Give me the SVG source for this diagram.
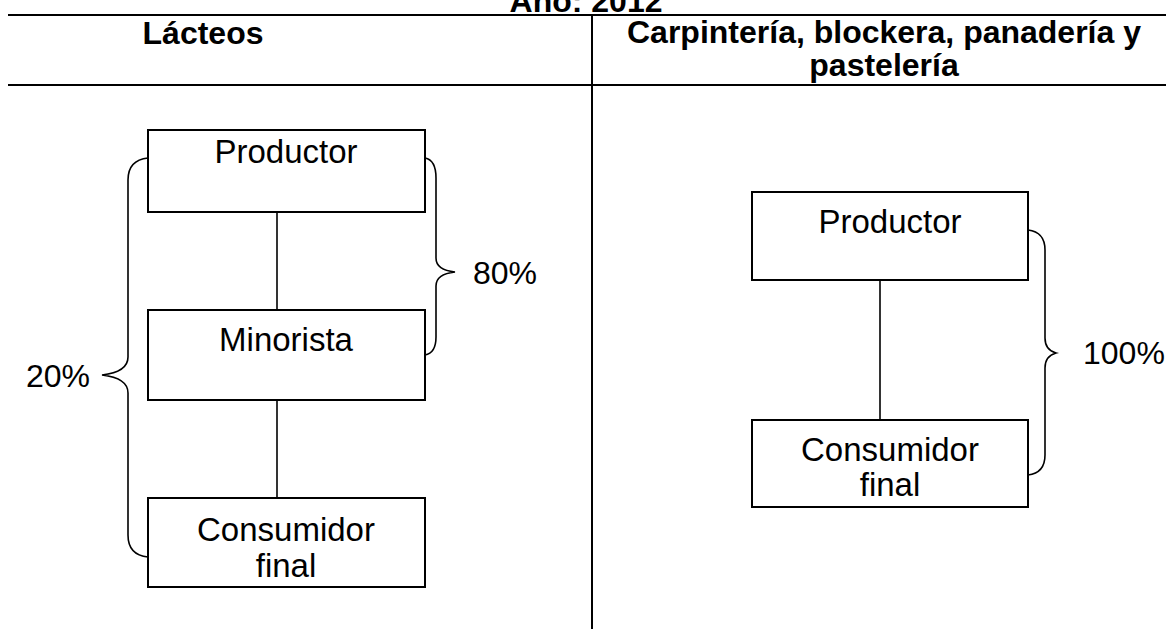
<svg xmlns="http://www.w3.org/2000/svg" width="1172" height="629" viewBox="0 0 1172 629">
<style>
.bg{fill:#ffffff}
.box{fill:#ffffff;stroke:#000;stroke-width:2}
.rule{stroke:#000;stroke-width:2;fill:none}
.ln{stroke:#000;stroke-width:1.6;fill:none}
.t{font-family:"Liberation Sans",Arial,sans-serif;font-size:33px;fill:#000;text-anchor:middle}
.p{font-family:"Liberation Sans",Arial,sans-serif;font-size:32px;fill:#000}
.h{font-family:"Liberation Sans",Arial,sans-serif;font-size:32px;font-weight:bold;fill:#000;text-anchor:middle}
</style>
<rect class="bg" x="0" y="0" width="1172" height="629"/>
<g id="table">
<text class="h" x="586" y="12">Año: 2012</text>
<line class="rule" x1="8" y1="15" x2="1166" y2="15"/>
<line class="rule" x1="8" y1="85" x2="1166" y2="85"/>
<line class="rule" x1="592" y1="15" x2="592" y2="629"/>
<text class="h" x="203" y="44">Lácteos</text>
<text class="h" x="884" y="43">Carpintería, blockera, panadería y</text>
<text class="h" x="884" y="76">pastelería</text>
</g>
<g id="connectors">
<line class="ln" x1="277" y1="212" x2="277" y2="310"/>
<line class="ln" x1="277" y1="400" x2="277" y2="498"/>
<line class="ln" x1="880" y1="280" x2="880" y2="420"/>
<path class="ln" d="M148,158 Q128,160 128,180 L128,357 Q128,372 102,375 Q128,378 128,393 L128,535 Q128,555 148,557"/>
<path class="ln" d="M425,158 Q436,160 436,178 L436,258 Q436,270 455,272 Q436,274 436,286 L436,337 Q436,353 425,355"/>
<path class="ln" d="M1028,230 Q1045,232 1045,250 L1045,338 Q1045,350 1056,353 Q1045,356 1045,368 L1045,455 Q1045,473 1028,475"/>
</g>
<g id="n-productor-l">
<rect class="box" x="148" y="130" width="277" height="82"/>
<text class="t" x="286" y="163">Productor</text>
</g>
<g id="n-minorista-l">
<rect class="box" x="148" y="310" width="277" height="90"/>
<text class="t" x="286" y="351">Minorista</text>
</g>
<g id="n-consumidor-l">
<rect class="box" x="148" y="498" width="277" height="89"/>
<text class="t" x="286" y="541">Consumidor</text>
<text class="t" x="286" y="577">final</text>
</g>
<g id="n-productor-r">
<rect class="box" x="752" y="192" width="276" height="88"/>
<text class="t" x="890" y="233">Productor</text>
</g>
<g id="n-consumidor-r">
<rect class="box" x="752" y="420" width="276" height="87"/>
<text class="t" x="890" y="461">Consumidor</text>
<text class="t" x="890" y="496">final</text>
</g>
<g id="labels">
<text class="p" x="90" y="387" style="text-anchor:end">20%</text>
<text class="p" x="473" y="284" style="text-anchor:start">80%</text>
<text class="p" x="1083" y="364" style="text-anchor:start">100%</text>
</g>
</svg>
